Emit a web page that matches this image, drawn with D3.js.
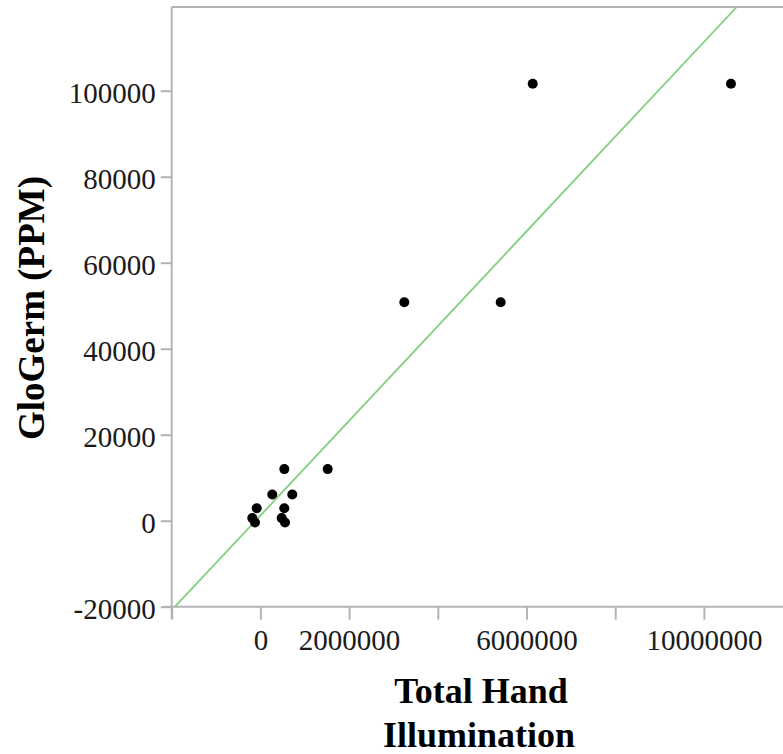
<!DOCTYPE html>
<html>
<head>
<meta charset="utf-8">
<script src="https://cdnjs.cloudflare.com/ajax/libs/d3/7.8.5/d3.min.js"></script>
<style>
  body { margin: 0; background: #fff; }
  svg { display: block; }
  .tick text { font-family: "Liberation Serif", "Times New Roman", serif; fill: #1a1a1a; }
  .ttl { font-family: "Liberation Serif", "Times New Roman", serif; font-weight: bold; fill: #000; }
</style>
</head>
<body>
<svg id="chart" width="783" height="754"></svg>
<script>
// data
var handIllum = [6140000, 10610000, 3245000, 5418000, 1517000, 539000, 268000, 719000,
                 -83000, 539000, -183000, -122000, 480000, 555000];
var gloGerm   = [101600, 101600, 50800, 50800, 12000, 12000, 6100, 6100,
                 2900, 2900, 600, -400, 600, -400];
var xTicks = [-2000000, 0, 2000000, 4000000, 6000000, 8000000, 10000000];
var xLabelled = [0, 2000000, 6000000, 10000000];
var yTicks = [-20000, 0, 20000, 40000, 60000, 80000, 100000];
// fitted line y = a + b*x
var fitIntercept = 1207;
var fitSlope = 0.011011;

var svg = d3.select('#chart');

var x = d3.scaleLinear().domain([-2000000, 12000000]).range([171.7, 792.6]);
var y = d3.scaleLinear().domain([-20000, 119465]).range([606.7, 7]);

// plain hyphen for negatives, like the original
var fmt = function(d){ return String(d); };

var xAxis = d3.axisBottom(x)
    .tickValues(xTicks)
    .tickSize(13)
    .tickPadding(9)
    .tickFormat(function(d){ return xLabelled.indexOf(d) >= 0 ? fmt(d) : ''; });

var yAxis = d3.axisLeft(y)
    .tickValues(yTicks)
    .tickSize(11)
    .tickPadding(5)
    .tickFormat(fmt);

// frame: top line
svg.append('line')
    .attr('x1', x.range()[0]).attr('x2', 783)
    .attr('y1', y.range()[1]).attr('y2', y.range()[1])
    .attr('stroke', '#b4b4b4').attr('stroke-width', 2);

var gx = svg.append('g')
    .attr('transform', 'translate(0,' + y.range()[0] + ')')
    .call(xAxis);
gx.select('.domain').attr('d', 'M' + (x.range()[0] - 8) + ',0H800');

var gy = svg.append('g')
    .attr('transform', 'translate(' + x.range()[0] + ',0)')
    .call(yAxis);
gy.select('.domain').attr('d', 'M0,' + y.range()[1] + 'V' + (y.range()[0] + 12));

svg.selectAll('.domain').attr('stroke', '#b4b4b4').attr('stroke-width', 2);
svg.selectAll('.tick line').attr('stroke', '#b4b4b4').attr('stroke-width', 2);
gx.selectAll('.tick text').attr('font-size', 29).attr('dy', '0.72em');
gy.selectAll('.tick text').attr('font-size', 29).attr('dy', '0.42em');

// fit line, clipped to the y range
var yLo = y.domain()[0], yHi = y.domain()[1];
var fitPts = [
    { gx: (yLo - fitIntercept) / fitSlope, gy: yLo },
    { gx: (yHi - fitIntercept) / fitSlope, gy: yHi }
];
svg.append('path')
    .datum(fitPts)
    .attr('d', d3.line().x(function(d){ return x(d.gx); }).y(function(d){ return y(d.gy); }))
    .attr('fill', 'none')
    .attr('stroke', '#7fcf7f')
    .attr('stroke-width', 1.8);

// points
svg.append('g').selectAll('circle')
    .data(d3.range(handIllum.length))
    .enter().append('circle')
    .attr('cx', function(i){ return x(handIllum[i]); })
    .attr('cy', function(i){ return y(gloGerm[i]); })
    .attr('r', 5)
    .attr('fill', '#000');

// titles
svg.append('text').attr('class', 'ttl')
    .attr('x', 481).attr('y', 703)
    .attr('text-anchor', 'middle')
    .attr('font-size', 36)
    .text('Total Hand');
svg.append('text').attr('class', 'ttl')
    .attr('x', 479).attr('y', 747)
    .attr('text-anchor', 'middle')
    .attr('font-size', 36)
    .text('Illumination');
svg.append('text').attr('class', 'ttl')
    .attr('transform', 'translate(44,308) rotate(-90)')
    .attr('text-anchor', 'middle')
    .attr('font-size', 37)
    .text('GloGerm (PPM)');
</script>
</body>
</html>
